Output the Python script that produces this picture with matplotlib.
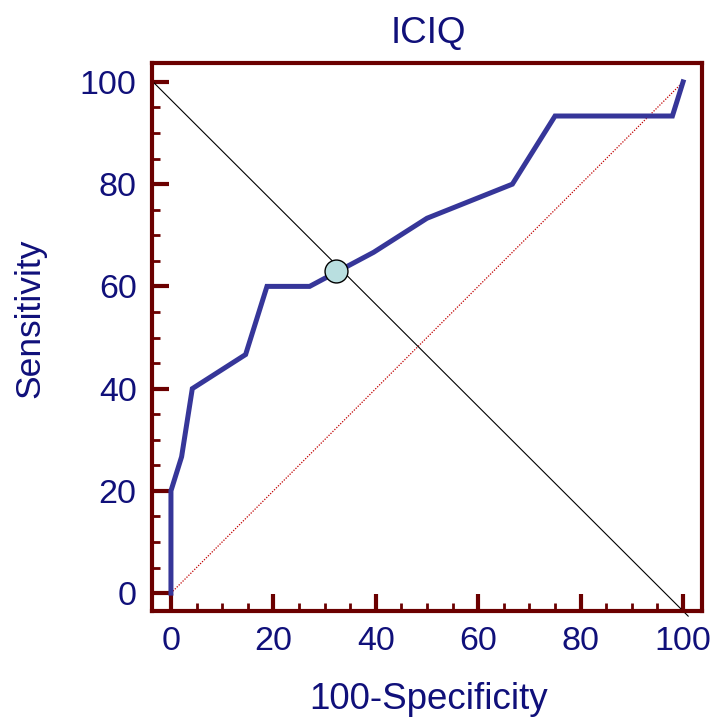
import matplotlib
matplotlib.use("Agg")
import matplotlib.pyplot as plt
from matplotlib.ticker import MultipleLocator

plt.rcParams['font.family'] = ['Liberation Sans', 'DejaVu Sans']

# ROC curve for ICIQ
fpr = [0, 0, 2.08, 4.17, 14.58, 18.75, 27.08, 39.58, 50.0, 66.67, 75.0, 97.92, 100]
sens = [0, 20, 26.67, 40, 46.67, 60, 60, 66.67, 73.33, 80, 93.33, 93.33, 100]

# marked criterion point and the line through it
cut_fpr = 32.3
cut_sens = 63.0
diag_intercept = 96.5

navy = '#10107a'
frame = '#6b0000'

fig = plt.figure(figsize=(7.16, 7.17), dpi=100)
ax = fig.add_axes([152/716, 1 - 611/717, 550/716, 548/717])

ax.set_xlim(-3.7, 103.7)
ax.set_ylim(-3.5, 103.7)

# reference lines
ax.plot([0, 100], [0, 100], color='#c00000', lw=0.9, ls=(0, (1, 1.2)))
dx = [-3.7, 101]
ax.plot(dx, [diag_intercept - v for v in dx], color='black', lw=0.8, clip_on=False)

ax.plot(fpr, sens, color='#363699', lw=3.6, solid_joinstyle='miter')
ax.plot([cut_fpr], [cut_sens], 'o', ms=16.5, mfc='#b9dfe0', mec='black', mew=1.0, zorder=5)

for s in ['left', 'bottom', 'top', 'right']:
    ax.spines[s].set_color(frame)
    ax.spines[s].set_linewidth(3)

ax.xaxis.set_major_locator(MultipleLocator(20))
ax.xaxis.set_minor_locator(MultipleLocator(5))
ax.yaxis.set_major_locator(MultipleLocator(20))
ax.yaxis.set_minor_locator(MultipleLocator(5))

ax.tick_params(which='major', direction='in', length=12.5, width=3, color=frame,
               labelsize=24.5, labelcolor=navy, pad=11)
ax.tick_params(which='minor', direction='in', length=6, width=2, color=frame)

fig.text(428/716, 1 - 43/717, 'ICIQ', ha='center', va='baseline', fontsize=26.5, color=navy)
fig.text(429/716, 1 - 709/717, '100-Specificity', ha='center', va='baseline', fontsize=26.5, color=navy)
fig.text(30/716, 1 - 318/717, 'Sensitivity', ha='center', va='center', rotation=90, fontsize=25.5, color=navy)

fig.savefig('out.png', dpi=100)
